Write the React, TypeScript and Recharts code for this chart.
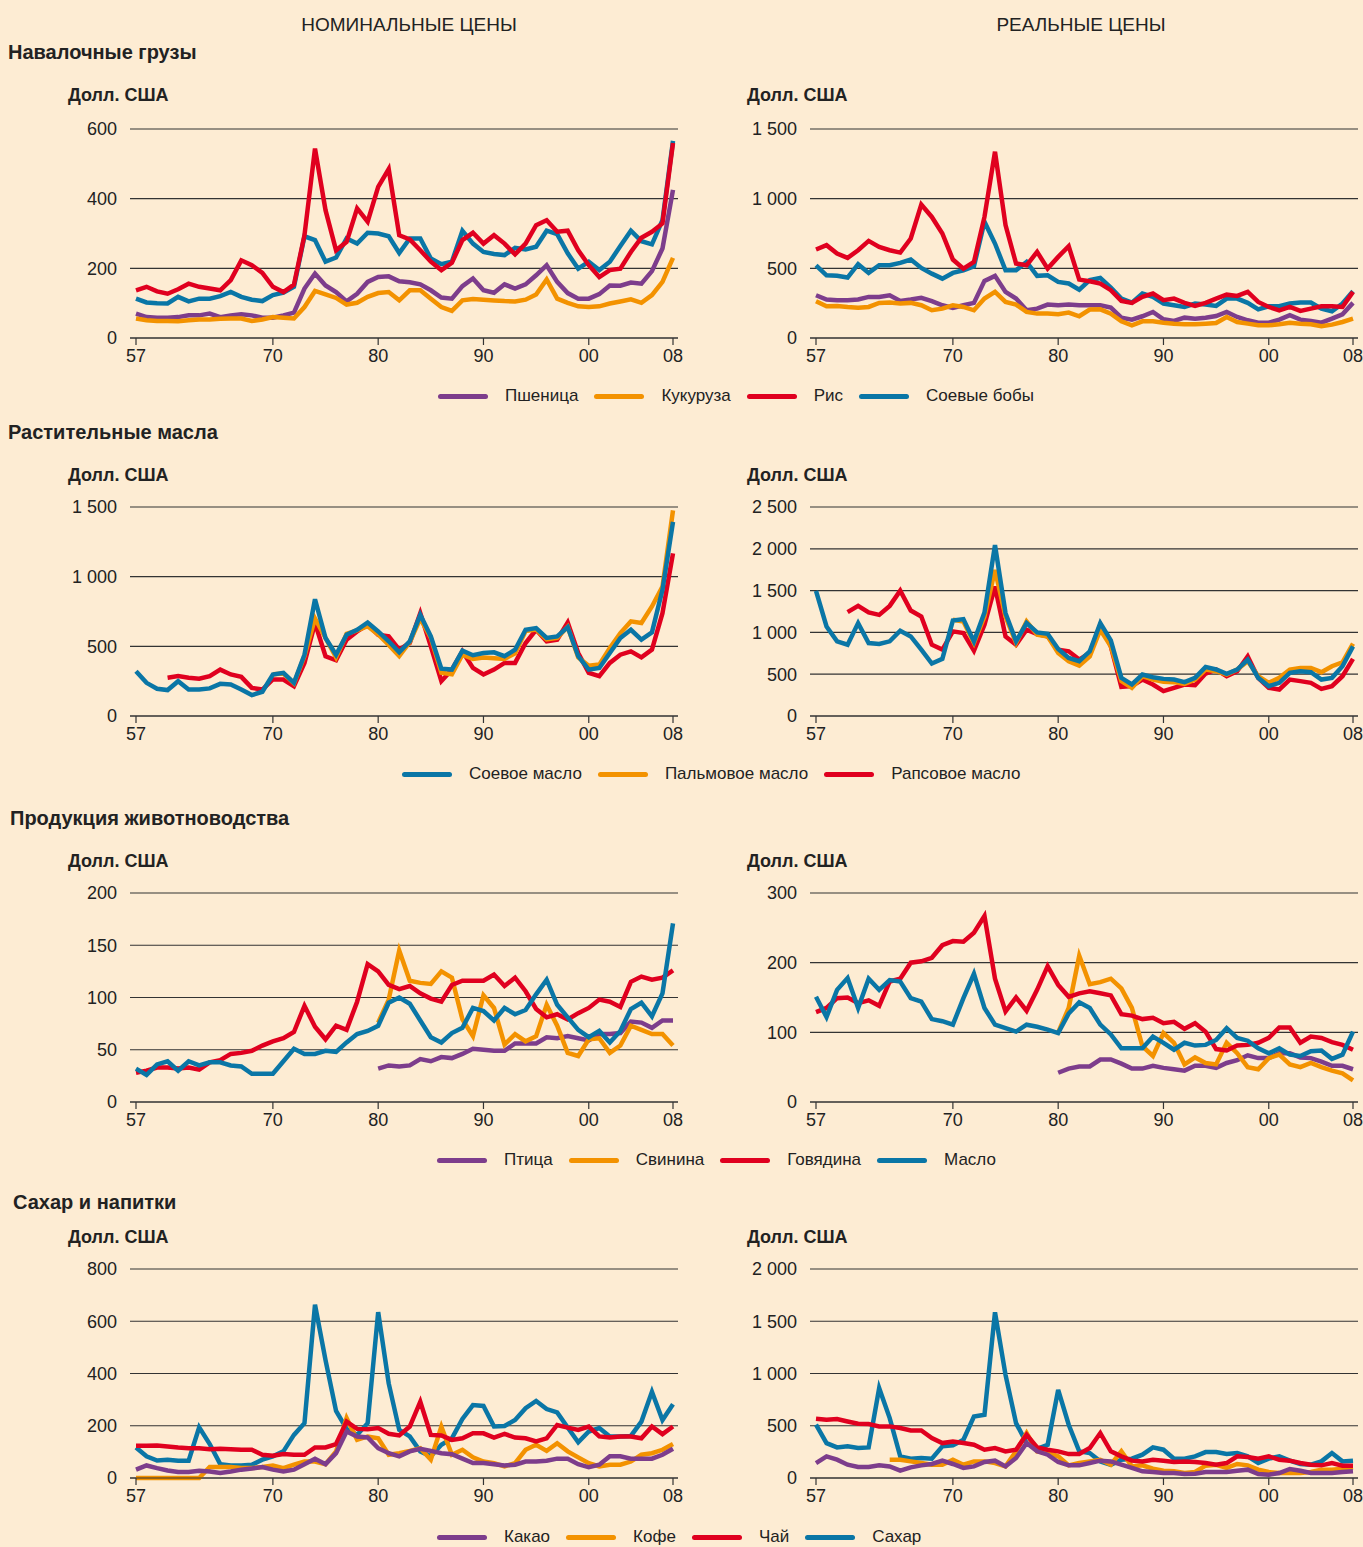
import React from "react";
import { CartesianGrid, Line, LineChart, XAxis, YAxis } from "recharts";

const years = [
  1957, 1958, 1959, 1960, 1961, 1962, 1963, 1964, 1965, 1966,
  1967, 1968, 1969, 1970, 1971, 1972, 1973, 1974, 1975, 1976,
  1977, 1978, 1979, 1980, 1981, 1982, 1983, 1984, 1985, 1986,
  1987, 1988, 1989, 1990, 1991, 1992, 1993, 1994, 1995, 1996,
  1997, 1998, 1999, 2000, 2001, 2002, 2003, 2004, 2005, 2006,
  2007, 2008,
];
const yearTicks = [1957, 1970, 1980, 1990, 2000, 2008];

// Навалочные грузы, номинальные
const wheatNom = [70, 60, 58, 58, 60, 65, 65, 70, 60, 65, 68, 65, 58, 58, 65, 73, 142, 185, 151, 132, 105, 127, 161, 175, 177, 163, 160, 154, 137, 116, 113, 149, 171, 137, 130, 154, 142, 154, 180, 209, 161, 129, 113, 113, 126, 151, 150, 159, 156, 192, 257, 425];
const maizeNom = [56, 51, 49, 49, 48, 51, 53, 53, 55, 56, 56, 49, 53, 60, 58, 56, 89, 135, 125, 115, 96, 101, 118, 129, 132, 108, 137, 137, 113, 89, 78, 108, 112, 110, 108, 106, 105, 110, 125, 168, 113, 101, 91, 89, 91, 99, 105, 111, 101, 123, 161, 230];
const riceNom = [137, 147, 134, 127, 140, 156, 147, 142, 137, 166, 223, 209, 187, 147, 132, 153, 295, 544, 367, 252, 276, 372, 334, 434, 485, 295, 283, 252, 219, 195, 216, 281, 302, 271, 295, 271, 240, 271, 324, 338, 305, 308, 252, 209, 175, 195, 199, 247, 288, 305, 329, 560];
const soyNom = [113, 102, 100, 99, 118, 105, 113, 113, 120, 132, 118, 110, 106, 123, 130, 147, 292, 281, 219, 231, 286, 271, 302, 300, 292, 244, 286, 286, 228, 212, 219, 308, 271, 247, 241, 238, 259, 254, 262, 308, 298, 243, 199, 219, 195, 219, 264, 308, 278, 269, 338, 566];

// Навалочные грузы, реальные
const wheatReal = [307, 276, 271, 271, 276, 295, 295, 307, 266, 276, 288, 264, 235, 216, 235, 252, 410, 446, 331, 283, 199, 211, 240, 235, 240, 235, 235, 235, 218, 146, 132, 156, 187, 134, 122, 146, 139, 146, 158, 187, 151, 127, 110, 110, 132, 163, 132, 122, 110, 139, 170, 252];
const maizeReal = [264, 228, 230, 223, 218, 223, 252, 254, 247, 252, 235, 199, 211, 235, 223, 199, 283, 331, 259, 240, 187, 175, 175, 170, 182, 156, 204, 206, 175, 120, 91, 120, 120, 110, 103, 98, 98, 103, 108, 151, 115, 103, 91, 91, 98, 110, 103, 98, 84, 96, 115, 139];
const riceReal = [635, 666, 606, 575, 630, 697, 654, 630, 613, 714, 958, 869, 750, 563, 498, 546, 869, 1337, 810, 534, 522, 618, 498, 582, 659, 419, 407, 390, 343, 266, 252, 295, 319, 271, 283, 252, 230, 252, 283, 311, 302, 331, 259, 223, 199, 223, 194, 211, 228, 228, 223, 331];
const soyReal = [522, 450, 446, 434, 530, 467, 522, 522, 539, 563, 503, 462, 426, 467, 486, 515, 834, 678, 486, 486, 546, 446, 450, 403, 391, 347, 415, 431, 362, 283, 254, 319, 295, 247, 235, 223, 247, 240, 230, 283, 283, 252, 206, 228, 228, 247, 254, 254, 211, 192, 247, 335];

// Растительные масла, номинальные
const soyOilNom = [321, 238, 195, 186, 250, 190, 190, 198, 231, 226, 190, 150, 174, 298, 310, 238, 440, 838, 560, 440, 583, 619, 671, 607, 536, 457, 536, 726, 571, 340, 333, 469, 436, 452, 457, 429, 476, 619, 631, 560, 571, 638, 429, 333, 345, 452, 560, 619, 548, 600, 905, 1393];
const palmOilNom = [null, null, null, null, null, null, null, null, null, null, null, null, null, 300, 305, 235, 430, 700, 560, 420, 590, 615, 645, 585, 510, 430, 530, 700, 560, 310, 300, 440, 410, 420, 415, 410, 450, 610, 620, 550, 560, 640, 420, 360, 369, 488, 595, 679, 667, 786, 929, 1476];
const rapeOilNom = [null, null, null, 274, 286, 274, 267, 286, 333, 298, 281, 202, 190, 262, 262, 214, 381, 667, 429, 400, 548, 607, 655, 583, 571, 476, 524, 738, 500, 250, 333, 464, 345, 298, 333, 381, 381, 524, 619, 536, 548, 671, 452, 310, 286, 381, 440, 464, 421, 476, 738, 1167];

// Растительные масла, реальные
const soyOilReal = [1496, 1071, 893, 853, 1111, 873, 861, 893, 1020, 952, 794, 627, 683, 1143, 1159, 893, 1238, 2044, 1230, 893, 1111, 1000, 984, 802, 694, 655, 774, 1111, 905, 456, 377, 496, 464, 444, 436, 405, 456, 587, 556, 504, 556, 675, 456, 357, 397, 516, 536, 524, 436, 456, 595, 833];
const palmOilReal = [null, null, null, null, null, null, null, null, null, null, null, null, null, 1151, 1131, 873, 1190, 1746, 1190, 873, 1131, 972, 952, 754, 655, 603, 714, 1032, 833, 417, 337, 476, 436, 409, 405, 385, 436, 556, 536, 496, 556, 655, 476, 397, 456, 556, 575, 575, 524, 595, 643, 865];
const rapeOilReal = [null, null, null, 1242, 1317, 1238, 1210, 1317, 1500, 1262, 1190, 853, 794, 1012, 992, 782, 1091, 1548, 952, 853, 1032, 980, 952, 794, 774, 675, 754, 1091, 833, 349, 357, 436, 377, 298, 337, 377, 369, 508, 556, 476, 536, 714, 456, 337, 317, 436, 417, 397, 325, 357, 476, 683];

// Продукция животноводства, номинальные
const poultryNom = [null, null, null, null, null, null, null, null, null, null, null, null, null, null, null, null, null, null, null, null, null, null, null, 32, 35, 34, 35, 41, 39, 43, 42, 46, 51, 50, 49, 49, 56, 56, 56, 62, 61, 63, 61, 59, 65, 65, 66, 77, 76, 71, 78, 78];
const porkNom = [null, null, null, null, null, null, null, null, null, null, null, null, null, null, null, null, null, null, null, null, null, null, null, 76, 98, 145, 116, 114, 113, 125, 119, 79, 63, 102, 90, 55, 65, 58, 63, 93, 73, 47, 44, 60, 61, 47, 54, 73, 69, 65, 65, 54];
const beefNom = [28, 30, 33, 33, 32, 33, 31, 38, 40, 46, 47, 49, 54, 58, 61, 67, 92, 72, 60, 73, 69, 96, 132, 125, 112, 108, 111, 104, 99, 96, 112, 116, 116, 116, 122, 111, 119, 106, 89, 81, 84, 79, 85, 90, 98, 96, 91, 115, 120, 117, 119, 126];
const butterNom = [32, 26, 36, 39, 30, 39, 35, 38, 38, 35, 34, 27, 27, 27, 39, 51, 46, 46, 49, 48, 57, 65, 68, 73, 95, 100, 94, 78, 62, 57, 66, 71, 90, 87, 78, 90, 84, 88, 103, 117, 93, 81, 69, 62, 68, 57, 68, 89, 95, 82, 104, 171];

// Продукция животноводства, реальные
const poultryReal = [null, null, null, null, null, null, null, null, null, null, null, null, null, null, null, null, null, null, null, null, null, null, null, 42, 48, 51, 51, 61, 61, 55, 48, 48, 52, 49, 47, 45, 52, 52, 49, 56, 60, 67, 63, 63, 70, 70, 64, 63, 58, 52, 52, 47];
const porkReal = [null, null, null, null, null, null, null, null, null, null, null, null, null, null, null, null, null, null, null, null, null, null, null, 100, 135, 210, 169, 172, 177, 163, 135, 80, 66, 99, 85, 54, 64, 56, 54, 85, 70, 50, 47, 63, 68, 54, 50, 56, 50, 45, 41, 31];
const beefReal = [129, 135, 149, 150, 142, 146, 138, 173, 177, 200, 202, 207, 225, 231, 230, 243, 267, 177, 130, 150, 131, 161, 195, 168, 151, 156, 159, 156, 153, 126, 124, 119, 121, 113, 115, 105, 113, 101, 76, 74, 81, 82, 85, 92, 107, 107, 85, 94, 92, 86, 82, 75];
const butterReal = [151, 122, 161, 178, 135, 177, 161, 175, 173, 149, 144, 119, 116, 111, 149, 184, 135, 111, 106, 101, 111, 108, 104, 99, 127, 143, 135, 111, 97, 77, 77, 77, 94, 85, 75, 85, 81, 82, 89, 106, 92, 88, 77, 70, 77, 68, 66, 73, 74, 62, 68, 101];

// Сахар и напитки, номинальные
const cocoaNom = [32, 48, 38, 29, 23, 23, 28, 25, 19, 25, 32, 36, 42, 32, 25, 32, 53, 74, 53, 95, 178, 159, 155, 114, 95, 83, 102, 112, 104, 95, 91, 74, 57, 57, 53, 48, 51, 63, 63, 66, 74, 74, 53, 41, 51, 83, 83, 74, 74, 74, 89, 112];
const coffeeNom = [0, 0, 0, 0, 0, 0, 0, 42, 42, 42, 38, 38, 42, 48, 38, 51, 63, 63, 53, 102, 229, 146, 159, 152, 89, 95, 104, 114, 70, 197, 89, 108, 79, 63, 57, 44, 57, 108, 127, 104, 133, 102, 79, 57, 44, 51, 51, 63, 89, 95, 108, 130];
const teaNom = [123, 123, 124, 121, 117, 114, 114, 110, 112, 110, 108, 108, 89, 85, 92, 89, 89, 117, 117, 130, 216, 188, 187, 191, 169, 163, 197, 292, 165, 163, 146, 152, 171, 171, 155, 169, 155, 152, 140, 152, 203, 193, 184, 197, 159, 155, 159, 159, 152, 197, 168, 197];
const sugarNom = [117, 83, 67, 70, 66, 66, 194, 130, 53, 48, 48, 51, 70, 83, 102, 165, 210, 663, 451, 257, 188, 165, 210, 635, 362, 184, 159, 102, 83, 127, 152, 226, 279, 276, 197, 199, 222, 267, 295, 264, 251, 193, 137, 178, 191, 159, 159, 161, 216, 330, 222, 282];

// Сахар и напитки, реальные
const cocoaReal = [143, 207, 175, 127, 105, 105, 121, 111, 70, 102, 121, 134, 166, 134, 96, 111, 153, 166, 111, 191, 334, 255, 223, 153, 121, 121, 143, 166, 159, 127, 96, 64, 57, 48, 48, 38, 41, 57, 57, 57, 70, 80, 38, 32, 48, 86, 70, 48, 48, 48, 57, 64];
const coffeeReal = [null, null, null, null, null, null, null, 175, 175, 159, 143, 127, 127, 175, 127, 159, 159, 143, 111, 255, 430, 255, 239, 207, 121, 143, 159, 175, 127, 255, 111, 121, 89, 70, 64, 48, 57, 118, 127, 96, 134, 121, 80, 57, 48, 48, 48, 57, 80, 80, 89, 102];
const teaReal = [567, 557, 564, 541, 519, 516, 494, 494, 478, 455, 455, 382, 334, 350, 334, 318, 271, 287, 255, 271, 414, 293, 271, 255, 229, 229, 287, 430, 255, 207, 166, 159, 175, 166, 153, 159, 153, 143, 127, 143, 207, 201, 185, 207, 175, 166, 143, 127, 121, 143, 118, 118];
const sugarReal = [510, 334, 293, 303, 287, 293, 860, 573, 207, 185, 191, 185, 303, 312, 366, 589, 605, 1586, 987, 525, 334, 280, 318, 844, 510, 255, 239, 159, 127, 175, 185, 223, 293, 271, 185, 185, 207, 248, 248, 229, 239, 207, 143, 185, 207, 166, 134, 127, 159, 239, 159, 166];

const PURPLE = "#7d3d8c";
const ORANGE = "#f39200";
const RED = "#e0001f";
const BLUE = "#0a76a6";
const BG = "#fdecd3";
const INK = "#222";
const FONT = '"Liberation Sans", Arial, sans-serif';

type Series = { key: string; color: string; values: (number | null)[] };

const fmtYear = (y: number) => String(y).slice(2);
const fmtNum = (v: number) =>
  v >= 1000 ? `${Math.floor(v / 1000)} ${String(v % 1000).padStart(3, "0")}` : String(v);

function Panel({
  left,
  top,
  yMax,
  yTicks,
  series,
}: {
  left: number;
  top: number;
  yMax: number;
  yTicks: number[];
  series: Series[];
}) {
  const data = years.map((year, i) => {
    const row: Record<string, number | null> = { year };
    series.forEach((s) => {
      row[s.key] = s.values[i];
    });
    return row;
  });
  return (
    <div style={{ position: "absolute", left, top: top - 10 }}>
      <LineChart
        width={700}
        height={259}
        data={data}
        margin={{ top: 10, right: 22, bottom: 0, left: 0 }}
      >
        <CartesianGrid vertical={false} stroke="#333" strokeWidth={1.2} />
        <XAxis
          dataKey="year"
          type="number"
          domain={[1957, 2008]}
          ticks={yearTicks}
          interval={0}
          tickFormatter={fmtYear}
          padding={{ left: 6, right: 5 }}
          height={40}
          stroke="#333"
          strokeWidth={1.2}
          tickSize={7}
          tickMargin={4}
          tick={{ fill: INK, fontSize: 18 }}
        />
        <YAxis
          domain={[0, yMax]}
          ticks={yTicks}
          interval={0}
          width={130}
          axisLine={false}
          tickLine={false}
          tickSize={0}
          tickMargin={13}
          tickFormatter={fmtNum}
          tick={{ fill: INK, fontSize: 18 }}
        />
        {series.map((s) => (
          <Line
            key={s.key}
            type="linear"
            dataKey={s.key}
            stroke={s.color}
            strokeWidth={4.5}
            dot={false}
            isAnimationActive={false}
          />
        ))}
      </LineChart>
    </div>
  );
}

function Text({
  x,
  y,
  children,
  size = 18,
  bold = false,
  center = false,
}: {
  x: number;
  y: number;
  children: React.ReactNode;
  size?: number;
  bold?: boolean;
  center?: boolean;
}) {
  return (
    <div
      style={{
        position: "absolute",
        left: x,
        top: y - size * 0.6,
        fontSize: size,
        lineHeight: 1.2,
        fontWeight: bold ? 700 : 400,
        color: INK,
        whiteSpace: "nowrap",
        transform: center ? "translateX(-50%)" : undefined,
      }}
    >
      {children}
    </div>
  );
}

function LegendRow({ x, y, items }: { x: number; y: number; items: [string, string][] }) {
  return (
    <div
      style={{
        position: "absolute",
        left: x,
        top: y - 11,
        height: 22,
        display: "flex",
        alignItems: "center",
        fontSize: 17,
        color: INK,
        whiteSpace: "nowrap",
      }}
    >
      {items.map(([label, color]) => (
        <div key={label} style={{ display: "flex", alignItems: "center", marginRight: 16 }}>
          <div style={{ width: 50, height: 5, borderRadius: 3, background: color, marginRight: 17 }} />
          <span>{label}</span>
        </div>
      ))}
    </div>
  );
}

const rows = [129, 507, 893, 1269];

export default function App() {
  return (
    <div
      style={{
        position: "absolute",
        left: 0,
        top: 0,
        width: 1363,
        height: 1547,
        background: BG,
        fontFamily: FONT,
        overflow: "hidden",
      }}
    >
      <Text x={409} y={25} size={19} center>НОМИНАЛЬНЫЕ ЦЕНЫ</Text>
      <Text x={1081} y={25} size={19} center>РЕАЛЬНЫЕ ЦЕНЫ</Text>

      <Text x={8} y={52} size={20} bold>Навалочные грузы</Text>
      <Text x={8} y={432} size={20} bold>Растительные масла</Text>
      <Text x={10} y={818} size={20} bold>Продукция животноводства</Text>
      <Text x={13} y={1202} size={20} bold>Сахар и напитки</Text>

      {[96, 476, 862, 1238].map((y) => (
        <React.Fragment key={y}>
          <Text x={68} y={y} size={18} bold>Долл. США</Text>
          <Text x={747} y={y} size={18} bold>Долл. США</Text>
        </React.Fragment>
      ))}

      <Panel
        left={0}
        top={rows[0]}
        yMax={600}
        yTicks={[0, 200, 400, 600]}
        series={[
          { key: "wheat", color: PURPLE, values: wheatNom },
          { key: "maize", color: ORANGE, values: maizeNom },
          { key: "soy", color: BLUE, values: soyNom },
          { key: "rice", color: RED, values: riceNom },
        ]}
      />
      <Panel
        left={680}
        top={rows[0]}
        yMax={1500}
        yTicks={[0, 500, 1000, 1500]}
        series={[
          { key: "wheat", color: PURPLE, values: wheatReal },
          { key: "maize", color: ORANGE, values: maizeReal },
          { key: "soy", color: BLUE, values: soyReal },
          { key: "rice", color: RED, values: riceReal },
        ]}
      />
      <LegendRow
        x={438}
        y={396}
        items={[
          ["Пшеница", PURPLE],
          ["Кукуруза", ORANGE],
          ["Рис", RED],
          ["Соевые бобы", BLUE],
        ]}
      />

      <Panel
        left={0}
        top={rows[1]}
        yMax={1500}
        yTicks={[0, 500, 1000, 1500]}
        series={[
          { key: "rape", color: RED, values: rapeOilNom },
          { key: "palm", color: ORANGE, values: palmOilNom },
          { key: "soyoil", color: BLUE, values: soyOilNom },
        ]}
      />
      <Panel
        left={680}
        top={rows[1]}
        yMax={2500}
        yTicks={[0, 500, 1000, 1500, 2000, 2500]}
        series={[
          { key: "rape", color: RED, values: rapeOilReal },
          { key: "palm", color: ORANGE, values: palmOilReal },
          { key: "soyoil", color: BLUE, values: soyOilReal },
        ]}
      />
      <LegendRow
        x={402}
        y={774}
        items={[
          ["Соевое масло", BLUE],
          ["Пальмовое масло", ORANGE],
          ["Рапсовое масло", RED],
        ]}
      />

      <Panel
        left={0}
        top={rows[2]}
        yMax={200}
        yTicks={[0, 50, 100, 150, 200]}
        series={[
          { key: "poultry", color: PURPLE, values: poultryNom },
          { key: "pork", color: ORANGE, values: porkNom },
          { key: "beef", color: RED, values: beefNom },
          { key: "butter", color: BLUE, values: butterNom },
        ]}
      />
      <Panel
        left={680}
        top={rows[2]}
        yMax={300}
        yTicks={[0, 100, 200, 300]}
        series={[
          { key: "poultry", color: PURPLE, values: poultryReal },
          { key: "pork", color: ORANGE, values: porkReal },
          { key: "beef", color: RED, values: beefReal },
          { key: "butter", color: BLUE, values: butterReal },
        ]}
      />
      <LegendRow
        x={437}
        y={1160}
        items={[
          ["Птица", PURPLE],
          ["Свинина", ORANGE],
          ["Говядина", RED],
          ["Масло", BLUE],
        ]}
      />

      <Panel
        left={0}
        top={rows[3]}
        yMax={800}
        yTicks={[0, 200, 400, 600, 800]}
        series={[
          { key: "sugar", color: BLUE, values: sugarNom },
          { key: "coffee", color: ORANGE, values: coffeeNom },
          { key: "tea", color: RED, values: teaNom },
          { key: "cocoa", color: PURPLE, values: cocoaNom },
        ]}
      />
      <Panel
        left={680}
        top={rows[3]}
        yMax={2000}
        yTicks={[0, 500, 1000, 1500, 2000]}
        series={[
          { key: "sugar", color: BLUE, values: sugarReal },
          { key: "coffee", color: ORANGE, values: coffeeReal },
          { key: "tea", color: RED, values: teaReal },
          { key: "cocoa", color: PURPLE, values: cocoaReal },
        ]}
      />
      <LegendRow
        x={437}
        y={1537}
        items={[
          ["Какао", PURPLE],
          ["Кофе", ORANGE],
          ["Чай", RED],
          ["Сахар", BLUE],
        ]}
      />
    </div>
  );
}
